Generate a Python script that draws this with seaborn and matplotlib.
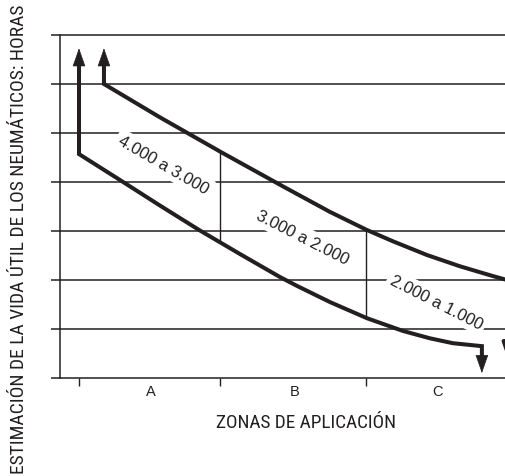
import numpy as np
import pandas as pd
import matplotlib
matplotlib.use("Agg")
import matplotlib.pyplot as plt
from matplotlib import font_manager
import seaborn as sns

# --- data (x: zone units, y: grid levels) ---
zone_edges = [0.0, 0.98, 2.0]
zone_centers = [0.5, 1.5, 2.5]
zone_labels = ["A", "B", "C"]
grid_levels = [1, 2, 3, 4, 5, 6, 7]

upper_x = [0.174, 0.564, 0.99, 1.422, 1.749, 2.007, 2.188, 2.425, 2.655, 2.885, 2.983, 3.05]
upper_y = [6.0, 5.32, 4.61, 3.91, 3.39, 3.02, 2.79, 2.51, 2.28, 2.08, 2.0, 1.95]

lower_x = [0.0, 0.286, 0.564, 0.843, 1.122, 1.401, 1.519, 1.749, 2.007, 2.258, 2.446, 2.606, 2.774, 2.808]
lower_y = [4.57, 4.04, 3.52, 3.01, 2.53, 2.06, 1.88, 1.55, 1.22, 0.96, 0.81, 0.71, 0.66, 0.65]

arrow_tip_up = 6.73
arrow_tip_down = 0.10

band_labels = ["4.000 a 3.000", "3.000 a 2.000", "2.000 a 1.000"]
band_x = [0.589, 1.554, 2.491]
band_y = [4.36, 2.88, 1.55]
band_rot = [-30, -27, -27]

ink = "#231f20"

sns.set_theme(style="white")
plt.rcParams["font.family"] = ["Liberation Sans", "DejaVu Sans"]

# condensed face for the axis titles, if one is installed
names = {f.name for f in font_manager.fontManager.ttflist}
narrow_fp = None
for fam in ("Liberation Sans Narrow", "Roboto Condensed", "Open Sans Condensed", "Noto Sans Condensed"):
    if fam in names:
        narrow_fp = font_manager.FontProperties(family=fam)
        break
if narrow_fp is None:
    for f in font_manager.fontManager.ttflist:
        if f.stretch in ("condensed", "semi-condensed") and f.style == "normal" and f.weight in (400, "normal", "regular"):
            narrow_fp = font_manager.FontProperties(fname=f.fname)
            break
if narrow_fp is None:
    narrow_fp = font_manager.FontProperties(family="Liberation Sans")

fig = plt.figure(figsize=(5.06, 4.77), dpi=100)
ax = fig.add_axes([60 / 506, 98 / 477, 446 / 506, 343 / 477])
ax.set_xlim(-0.1324, 2.976)
ax.set_ylim(0, 7)

# horizontal grid lines
for lvl in grid_levels:
    ax.axhline(lvl, color=ink, lw=1.1, zorder=1, clip_on=False)

# curves with their vertical arrow shafts
head_len = 0.3
up_df = pd.DataFrame({"x": [upper_x[0]] + upper_x,
                      "y": [arrow_tip_up - head_len] + upper_y})
lo_df = pd.DataFrame({"x": [lower_x[0]] + lower_x + [lower_x[-1]],
                      "y": [arrow_tip_up - head_len] + lower_y + [arrow_tip_down + head_len]})
for df in (up_df, lo_df):
    sns.lineplot(data=df, x="x", y="y", sort=False, estimator=None, ax=ax,
                 color=ink, lw=2.9, zorder=5, solid_joinstyle="miter")

head = dict(arrowstyle="-|>,head_length=1.2,head_width=0.42", color=ink,
            lw=0.5, shrinkA=0, shrinkB=0, mutation_scale=10)
for x0 in (upper_x[0], lower_x[0]):
    ax.annotate("", xy=(x0, arrow_tip_up), xytext=(x0, arrow_tip_up - head_len - 0.05),
                arrowprops=head, zorder=6)
ax.annotate("", xy=(lower_x[-1], arrow_tip_down),
            xytext=(lower_x[-1], arrow_tip_down + head_len + 0.05), arrowprops=head, zorder=6)
# arrow cut by the right edge
ax.annotate("", xy=(3.0, 0.29), xytext=(3.0, 1.04), arrowprops=dict(head, lw=2.9),
            annotation_clip=False, zorder=6)

# zone separators between the two curves
for xe in zone_edges[1:]:
    top = np.interp(xe, upper_x, upper_y)
    bot = np.interp(xe, lower_x, lower_y)
    ax.plot([xe, xe], [top, bot], color=ink, lw=1.0, zorder=2)

# band labels
for txt, bx, by, rot in zip(band_labels, band_x, band_y, band_rot):
    ax.text(bx, by, txt, rotation=rot, ha="center", va="center", fontsize=12,
            color=ink, zorder=3, rotation_mode="anchor",
            bbox=dict(facecolor="white", edgecolor="none", pad=2.5))

# axes styling
sns.despine(ax=ax, top=True, right=True)
for side in ("left", "bottom"):
    ax.spines[side].set_color(ink)
    ax.spines[side].set_linewidth(1.1)
ax.set_yticks(range(0, 8))
ax.set_yticklabels([])
ax.tick_params(axis="y", which="major", left=True, length=6.5, width=1.1, color=ink, direction="out")
ax.set_xticks(zone_edges)
ax.set_xticklabels([])
ax.tick_params(axis="x", which="major", bottom=True, length=5.8, width=1.0, color=ink, direction="out")
ax.set_xticks(zone_centers, minor=True)
ax.set_xticklabels(zone_labels, minor=True)
ax.tick_params(axis="x", which="minor", bottom=True, length=0, pad=4.5, labelsize=10.5, labelcolor=ink)

ax.set_xlabel("ZONAS DE APLICACIÓN", fontproperties=narrow_fp, color=ink)
ax.xaxis.label.set_va("baseline")
ax.xaxis.set_label_coords(0.552, -0.143)
ax.set_ylabel("ESTIMACIÓN DE LA VIDA ÚTIL DE LOS NEUMÁTICOS: HORAS", fontproperties=narrow_fp,
              color=ink)
ax.yaxis.label.set_va("baseline")
ax.yaxis.set_label_coords(-0.0807, 0.408)

# size the axis titles to the lengths seen in the reference
fig.canvas.draw()
for label, target, use_h in ((ax.xaxis.label, 182, False), (ax.yaxis.label, 470, True)):
    label.set_fontsize(14)
    fig.canvas.draw()
    bb = label.get_window_extent()
    cur = bb.height if use_h else bb.width
    label.set_fontsize(14 * target / cur)

fig.savefig("out.png", dpi=100)
